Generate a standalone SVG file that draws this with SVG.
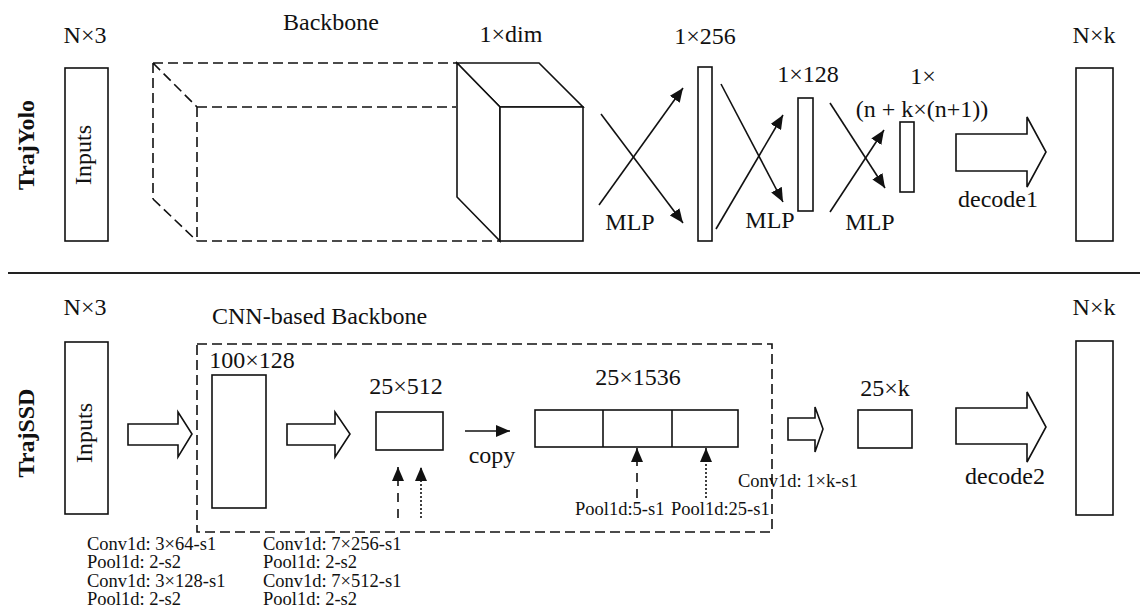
<svg xmlns="http://www.w3.org/2000/svg" width="1140" height="611" viewBox="0 0 1140 611">
<style>
text{font-family:"Liberation Serif","Times New Roman",serif;fill:#111;}
.lb{font-size:24px;text-anchor:middle;}
.sm{font-size:18.5px;}
.bd{font-weight:bold;}
.box{fill:none;stroke:#111;stroke-width:1.6;}
.dash{fill:none;stroke:#111;stroke-width:1.6;stroke-dasharray:10,5;}
.ln{fill:none;stroke:#111;stroke-width:1.6;}
.up-dash{fill:none;stroke:#111;stroke-width:1.6;stroke-dasharray:9,7;}
.up-dot{fill:none;stroke:#111;stroke-width:1.6;stroke-dasharray:2,2;}
.blk{fill:#fff;stroke:#111;stroke-width:1.6;}
</style>
<defs>
<marker id="ah" viewBox="0 0 14 12" refX="14" refY="6" markerWidth="14" markerHeight="12" markerUnits="userSpaceOnUse" orient="auto">
<path d="M0,0 L14,6 L0,12 z" fill="#111"/>
</marker>
</defs>
<rect x="0" y="0" width="1140" height="611" fill="#fff"/>

<line x1="8" y1="273" x2="1140" y2="273" stroke="#222" stroke-width="2.2"/>

<!-- Top: TrajYolo -->
<g id="label-trajyolo"><text class="lb bd" transform="translate(34,145) rotate(-90)">TrajYolo</text></g>
<g id="yolo-inputs">
<text class="lb" x="85" y="43">N×3</text>
<rect class="box" x="65" y="68" width="43" height="173"/>
<text class="lb" transform="translate(91,155) rotate(-90)">Inputs</text>
</g>
<g id="yolo-backbone">
<text class="lb" x="331" y="30">Backbone</text>
<path class="dash" d="M153,63 L457,63 M153,63 L153,199 M153,63 L197,107 M197,107 L456,107 M197,107 L197,241 M153,199 L197,241 M197,241 L500,241"/>
</g>
<g id="yolo-dim">
<text class="lb" x="511" y="42">1×dim</text>
<polygon class="blk" points="457,63 539,63 583,107 500,107"/>
<polygon class="blk" points="457,63 500,107 500,241 457,197"/>
<rect class="blk" x="500" y="107" width="83" height="134"/>
</g>
<g id="yolo-256">
<text class="lb" x="705" y="44">1×256</text>
<rect class="box" x="698" y="67" width="14" height="174"/>
</g>
<g id="yolo-128">
<text class="lb" x="808" y="82">1×128</text>
<rect class="box" x="798" y="98" width="15" height="113"/>
</g>
<g id="yolo-out">
<text class="lb" x="923" y="84">1×</text>
<text class="lb" x="922" y="117">(n + k×(n+1))</text>
<rect class="box" x="900" y="122" width="14" height="70"/>
</g>
<g id="yolo-nk">
<text class="lb" x="1094" y="43">N×k</text>
<rect class="box" x="1076" y="68" width="37" height="173"/>
</g>

<!-- Bottom: TrajSSD -->
<g id="label-trajssd"><text class="lb bd" transform="translate(34,433) rotate(-90)">TrajSSD</text></g>
<g id="ssd-inputs">
<text class="lb" x="85" y="315">N×3</text>
<rect class="box" x="65" y="342" width="43" height="172"/>
<text class="lb" transform="translate(92,433) rotate(-90)">Inputs</text>
</g>
<g id="ssd-backbone">
<text class="lb" x="212" y="324" style="text-anchor:start">CNN-based Backbone</text>
<rect class="dash" x="197" y="344" width="575" height="188"/>
</g>
<g id="ssd-100x128">
<text class="lb" x="252" y="368">100×128</text>
<rect class="box" x="212" y="375" width="54" height="133"/>
</g>
<g id="ssd-25x512">
<text class="lb" x="406" y="394">25×512</text>
<rect class="box" x="376" y="412" width="67" height="38"/>
</g>
<g id="ssd-25x1536">
<text class="lb" x="638" y="385">25×1536</text>
<rect class="box" x="535" y="410" width="203" height="37"/>
<line class="ln" x1="603" y1="410" x2="603" y2="447"/>
<line class="ln" x1="672" y1="410" x2="672" y2="447"/>
</g>
<g id="ssd-25xk">
<text class="lb" x="885" y="396">25×k</text>
<rect class="box" x="858" y="410" width="54" height="38"/>
</g>
<g id="ssd-nk">
<text class="lb" x="1094" y="315">N×k</text>
<rect class="box" x="1076" y="341" width="37" height="174"/>
</g>
<g id="ssd-notes">
<text class="sm" x="87" y="550">Conv1d: 3×64-s1</text>
<text class="sm" x="87" y="568">Pool1d: 2-s2</text>
<text class="sm" x="87" y="587">Conv1d: 3×128-s1</text>
<text class="sm" x="87" y="605">Pool1d: 2-s2</text>
<text class="sm" x="263" y="550">Conv1d: 7×256-s1</text>
<text class="sm" x="263" y="568">Pool1d: 2-s2</text>
<text class="sm" x="263" y="587">Conv1d: 7×512-s1</text>
<text class="sm" x="263" y="605">Pool1d: 2-s2</text>
<text class="sm" x="738" y="487">Conv1d: 1×k-s1</text>
<text class="sm" x="575" y="515">Pool1d:5-s1</text>
<text class="sm" x="671" y="515">Pool1d:25-s1</text>
</g>

<!-- Connectors -->
<g id="connectors">
<line class="ln" x1="601" y1="114" x2="683" y2="223" marker-end="url(#ah)"/>
<line class="ln" x1="599" y1="205" x2="683" y2="88" marker-end="url(#ah)"/>
<line class="ln" x1="721" y1="84" x2="783" y2="202" marker-end="url(#ah)"/>
<line class="ln" x1="716" y1="229" x2="783" y2="115" marker-end="url(#ah)"/>
<line class="ln" x1="830" y1="103" x2="885" y2="188" marker-end="url(#ah)"/>
<line class="ln" x1="830" y1="212" x2="884" y2="130" marker-end="url(#ah)"/>
<text class="lb" x="630" y="230">MLP</text>
<text class="lb" x="770" y="228">MLP</text>
<text class="lb" x="870" y="230">MLP</text>
<polygon class="blk" points="956,134 1027,134 1027,117 1046,152 1027,187 1027,171 956,171"/>
<text class="lb" x="998" y="207">decode1</text>

<polygon class="blk" points="128,424 178,424 178,412 192,434 178,457 178,445 128,445"/>
<polygon class="blk" points="287,424 335,424 335,412 350,434 335,457 335,445 287,445"/>
<polygon class="blk" points="788,418 815,418 815,407 823,429 815,452 815,440 788,440"/>
<polygon class="blk" points="956,408 1027,408 1027,392 1046,427 1027,462 1027,444 956,444"/>
<text class="lb" x="1005" y="484">decode2</text>
<line class="ln" x1="465" y1="431" x2="510" y2="431" marker-end="url(#ah)"/>
<text class="lb" x="492" y="463">copy</text>
<line class="up-dash" x1="398" y1="518" x2="398" y2="467" marker-end="url(#ah)"/>
<line class="up-dot" x1="421" y1="518" x2="421" y2="467" marker-end="url(#ah)"/>
<line class="up-dash" x1="637" y1="498" x2="637" y2="448" marker-end="url(#ah)"/>
<line class="up-dot" x1="706" y1="498" x2="706" y2="448" marker-end="url(#ah)"/>
</g>
</svg>
